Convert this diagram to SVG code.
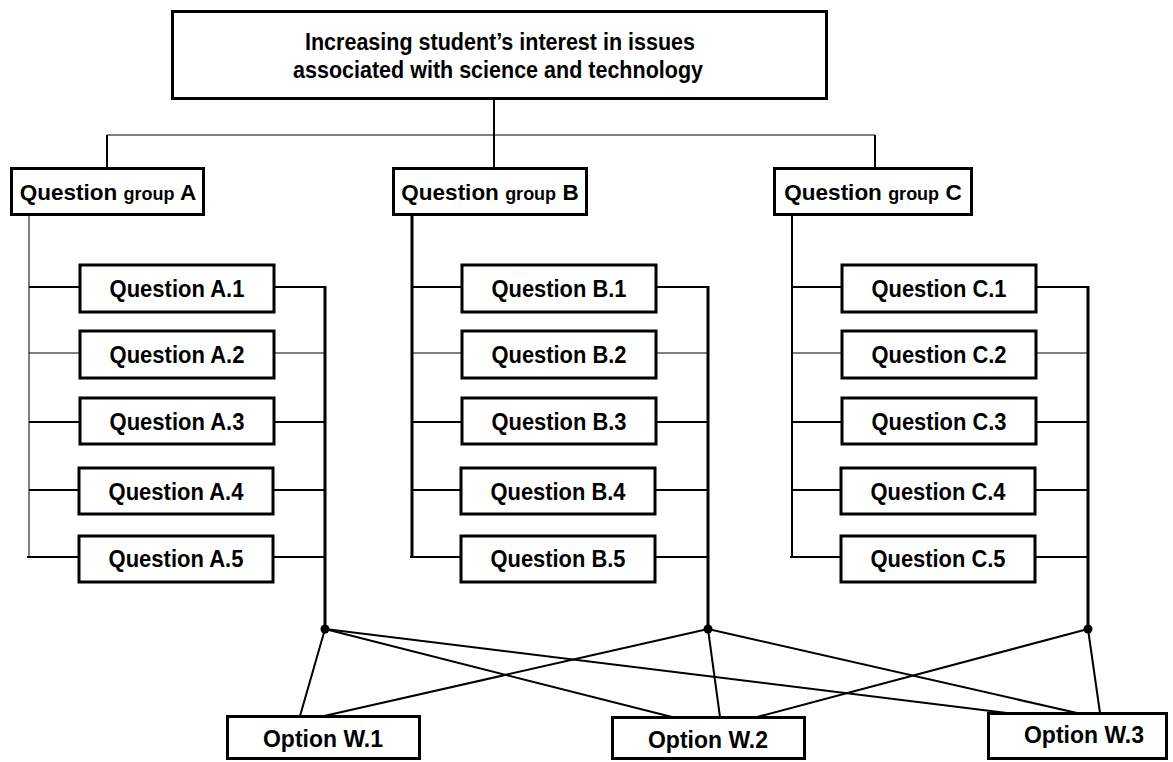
<svg xmlns="http://www.w3.org/2000/svg" width="1173" height="762" viewBox="0 0 1173 762">
<style>
.box{fill:#fff;stroke:#000;stroke-width:3}
.t{font-family:"Liberation Sans",Arial,sans-serif;font-weight:bold;font-size:23.5px;fill:#000;text-anchor:middle}
.g{font-size:22.5px}
.sm{font-size:18px}
.c1{stroke:#000;stroke-width:1;fill:none}
.c2{stroke:#000;stroke-width:2;fill:none}
.c3{stroke:#000;stroke-width:3;fill:none}
.dot{fill:#000}
</style>
<rect width="1173" height="762" fill="#fff"/>
<g id="connectors">
  <line class="c2" x1="494" y1="100" x2="494" y2="168"/>
  <line class="c1" x1="107" y1="135" x2="875" y2="135"/>
  <line class="c2" x1="107" y1="135" x2="107" y2="168"/>
  <line class="c2" x1="875" y1="135" x2="875" y2="168"/>
  <line class="c1" x1="29" y1="216" x2="29" y2="557"/>
  <line class="c2" x1="29" y1="287" x2="80" y2="287"/>
  <line class="c1" x1="29" y1="353" x2="80" y2="353"/>
  <line class="c2" x1="29" y1="422" x2="80" y2="422"/>
  <line class="c2" x1="29" y1="490" x2="79" y2="490"/>
  <line class="c2" x1="27" y1="557" x2="79" y2="557"/>
  <line class="c2" x1="274" y1="287" x2="325" y2="287"/>
  <line class="c1" x1="274" y1="353" x2="325" y2="353"/>
  <line class="c2" x1="274" y1="422" x2="325" y2="422"/>
  <line class="c2" x1="273" y1="490" x2="325" y2="490"/>
  <line class="c2" x1="273" y1="557" x2="325" y2="557"/>
  <line class="c3" x1="325" y1="286" x2="325" y2="629"/>
  <line class="c3" x1="412" y1="216" x2="412" y2="557"/>
  <line class="c2" x1="412" y1="287" x2="462" y2="287"/>
  <line class="c1" x1="412" y1="353" x2="462" y2="353"/>
  <line class="c2" x1="412" y1="422" x2="462" y2="422"/>
  <line class="c2" x1="412" y1="490" x2="461" y2="490"/>
  <line class="c2" x1="410" y1="557" x2="461" y2="557"/>
  <line class="c2" x1="656" y1="287" x2="708" y2="287"/>
  <line class="c1" x1="656" y1="353" x2="708" y2="353"/>
  <line class="c2" x1="656" y1="422" x2="708" y2="422"/>
  <line class="c2" x1="655" y1="490" x2="708" y2="490"/>
  <line class="c2" x1="655" y1="557" x2="708" y2="557"/>
  <line class="c3" x1="708" y1="286" x2="708" y2="629"/>
  <line class="c2" x1="792" y1="216" x2="792" y2="557"/>
  <line class="c2" x1="792" y1="287" x2="842" y2="287"/>
  <line class="c1" x1="792" y1="353" x2="842" y2="353"/>
  <line class="c2" x1="792" y1="422" x2="842" y2="422"/>
  <line class="c2" x1="792" y1="490" x2="841" y2="490"/>
  <line class="c2" x1="790" y1="557" x2="841" y2="557"/>
  <line class="c2" x1="1036" y1="287" x2="1088" y2="287"/>
  <line class="c1" x1="1036" y1="353" x2="1088" y2="353"/>
  <line class="c2" x1="1036" y1="422" x2="1088" y2="422"/>
  <line class="c2" x1="1035" y1="490" x2="1088" y2="490"/>
  <line class="c2" x1="1035" y1="557" x2="1088" y2="557"/>
  <line class="c3" x1="1088" y1="286" x2="1088" y2="629"/>
  <line class="c2" x1="325" y1="629" x2="300" y2="716"/>
  <line class="c2" x1="325" y1="629" x2="672" y2="717"/>
  <line class="c2" x1="325" y1="629" x2="1007" y2="713"/>
  <line class="c2" x1="708" y1="629" x2="324" y2="716"/>
  <line class="c2" x1="708" y1="629" x2="720" y2="717"/>
  <line class="c2" x1="708" y1="629" x2="1077" y2="713"/>
  <line class="c2" x1="1088" y1="629" x2="757" y2="717"/>
  <line class="c2" x1="1088" y1="629" x2="1100" y2="713"/>
  <circle class="dot" cx="325" cy="629" r="4.5"/>
  <circle class="dot" cx="708" cy="629" r="4.5"/>
  <circle class="dot" cx="1088" cy="629" r="4.5"/>
</g>
<g id="goal">
  <rect class="box" x="172.5" y="11.5" width="654" height="87"/>
  <text class="t" x="500" y="50" textLength="390" lengthAdjust="spacingAndGlyphs">Increasing student’s interest in issues</text>
  <text class="t" x="498" y="78" textLength="410" lengthAdjust="spacingAndGlyphs">associated with science and technology</text>
</g>
<g id="groupA">
  <rect class="box" x="11.5" y="168.5" width="192" height="46"/>
  <text class="t g" x="108" y="200">Question <tspan class="sm">group</tspan> A</text>
</g>
<g id="groupB">
  <rect class="box" x="393.5" y="168.5" width="193" height="46"/>
  <text class="t g" x="490" y="200">Question <tspan class="sm">group</tspan> B</text>
</g>
<g id="groupC">
  <rect class="box" x="774.5" y="168.5" width="197" height="46"/>
  <text class="t g" x="873" y="200">Question <tspan class="sm">group</tspan> C</text>
</g>
<g id="qA1"><rect class="box" x="80" y="265" width="194" height="47"/><text class="t" x="177" y="297" textLength="135" lengthAdjust="spacingAndGlyphs">Question A.1</text></g>
<g id="qA2"><rect class="box" x="80" y="331" width="194" height="47"/><text class="t" x="177" y="363" textLength="135" lengthAdjust="spacingAndGlyphs">Question A.2</text></g>
<g id="qA3"><rect class="box" x="80" y="398" width="194" height="46"/><text class="t" x="177" y="430" textLength="135" lengthAdjust="spacingAndGlyphs">Question A.3</text></g>
<g id="qA4"><rect class="box" x="79" y="468" width="194" height="46"/><text class="t" x="176" y="500" textLength="135" lengthAdjust="spacingAndGlyphs">Question A.4</text></g>
<g id="qA5"><rect class="box" x="79" y="536" width="194" height="46"/><text class="t" x="176" y="567" textLength="135" lengthAdjust="spacingAndGlyphs">Question A.5</text></g>
<g id="qB1"><rect class="box" x="462" y="265" width="194" height="47"/><text class="t" x="559" y="297" textLength="135" lengthAdjust="spacingAndGlyphs">Question B.1</text></g>
<g id="qB2"><rect class="box" x="462" y="331" width="194" height="47"/><text class="t" x="559" y="363" textLength="135" lengthAdjust="spacingAndGlyphs">Question B.2</text></g>
<g id="qB3"><rect class="box" x="462" y="398" width="194" height="46"/><text class="t" x="559" y="430" textLength="135" lengthAdjust="spacingAndGlyphs">Question B.3</text></g>
<g id="qB4"><rect class="box" x="461" y="468" width="194" height="46"/><text class="t" x="558" y="500" textLength="135" lengthAdjust="spacingAndGlyphs">Question B.4</text></g>
<g id="qB5"><rect class="box" x="461" y="536" width="194" height="46"/><text class="t" x="558" y="567" textLength="135" lengthAdjust="spacingAndGlyphs">Question B.5</text></g>
<g id="qC1"><rect class="box" x="842" y="265" width="194" height="47"/><text class="t" x="939" y="297" textLength="135" lengthAdjust="spacingAndGlyphs">Question C.1</text></g>
<g id="qC2"><rect class="box" x="842" y="331" width="194" height="47"/><text class="t" x="939" y="363" textLength="135" lengthAdjust="spacingAndGlyphs">Question C.2</text></g>
<g id="qC3"><rect class="box" x="842" y="398" width="194" height="46"/><text class="t" x="939" y="430" textLength="135" lengthAdjust="spacingAndGlyphs">Question C.3</text></g>
<g id="qC4"><rect class="box" x="841" y="468" width="194" height="46"/><text class="t" x="938" y="500" textLength="135" lengthAdjust="spacingAndGlyphs">Question C.4</text></g>
<g id="qC5"><rect class="box" x="841" y="536" width="194" height="46"/><text class="t" x="938" y="567" textLength="135" lengthAdjust="spacingAndGlyphs">Question C.5</text></g>
<g id="w1"><rect class="box" x="227.5" y="716.5" width="192" height="42"/><text class="t" x="323" y="747" textLength="120" lengthAdjust="spacingAndGlyphs">Option W.1</text></g>
<g id="w2"><rect class="box" x="612.5" y="717.5" width="192" height="41"/><text class="t" x="708" y="748" textLength="120" lengthAdjust="spacingAndGlyphs">Option W.2</text></g>
<g id="w3"><rect class="box" x="988.5" y="713.5" width="178" height="45"/><text class="t" x="1084" y="743" textLength="120" lengthAdjust="spacingAndGlyphs">Option W.3</text></g>
</svg>
